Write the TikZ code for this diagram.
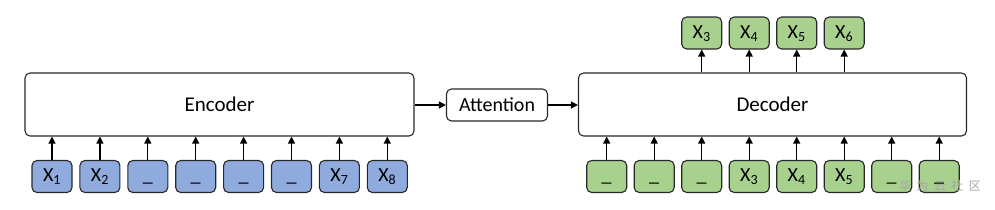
\documentclass[tikz,border=0pt]{standalone}
\usepackage{fontspec}
\setmainfont{Carlito}
\newfontfamily\cjk{Noto Sans CJK SC}
\usetikzlibrary{arrows.meta}
\definecolor{blueT}{RGB}{143,170,220}
\definecolor{greenT}{RGB}{169,209,142}
\definecolor{edgeT}{RGB}{40,40,40}
\begin{document}
\begin{tikzpicture}[x=1pt,y=-1pt,
  bigbox/.style={draw=edgeT,line width=1.1pt,rounded corners=5pt,fill=white,font=\fontsize{21}{24}\selectfont},
  tok/.style={draw=edgeT,line width=1.1pt,rounded corners=5pt,minimum width=40pt,minimum height=32pt,inner sep=0pt,font=\fontsize{20}{22}\selectfont,text height=13pt,text depth=3pt},
  enctok/.style={tok,fill=blueT},
  dectok/.style={tok,fill=greenT},
  arr/.style={-{Triangle[length=7pt,width=7pt]},line width=1.2pt,black}]
\useasboundingbox (0,0) rectangle (995,209);
\node[bigbox,minimum width=389pt,minimum height=63pt] (enc) at (219.5,104.5) {Encoder};
\node[bigbox,minimum width=388pt,minimum height=63pt] (dec) at (772.5,104.5) {Decoder};
\node[bigbox,minimum width=101pt,minimum height=32pt,inner sep=0pt,font=\fontsize{20}{22}\selectfont] (att) at (497,105) {Attention};
\foreach \t [count=\i from 0] in {X\textsubscript{1},X\textsubscript{2},\_,\_,\_,\_,X\textsubscript{7},X\textsubscript{8}}{
  \node[enctok] (e\i) at (52+47.9*\i,176.5) {\t};
  \draw[arr] (e\i.north) -- (e\i.north |- enc.south);
}
\foreach \t [count=\i from 0] in {\_,\_,\_,X\textsubscript{3},X\textsubscript{4},X\textsubscript{5},\_,\_}{
  \node[dectok] (d\i) at (606.7+47.5*\i,176.5) {\t};
  \draw[arr] (d\i.north) -- (d\i.north |- dec.south);
}
\foreach \t [count=\i from 2] in {X\textsubscript{3},X\textsubscript{4},X\textsubscript{5},X\textsubscript{6}}{
  \node[dectok] (o\i) at (606.7+47.5*\i,33) {\t};
  \draw[arr] (o\i.south |- dec.north) -- (o\i.south);
}
\draw[arr] (enc.east |- att.west) -- (att.west);
\draw[arr] (att.east) -- (att.east -| dec.west);
\node[text=black!35,font=\cjk\fontsize{12}{12}\selectfont,inner sep=0pt] (wm) at (940,186) {华\ \ 为\ \ 云\ \ 社\ \ 区};
\end{tikzpicture}
\end{document}
